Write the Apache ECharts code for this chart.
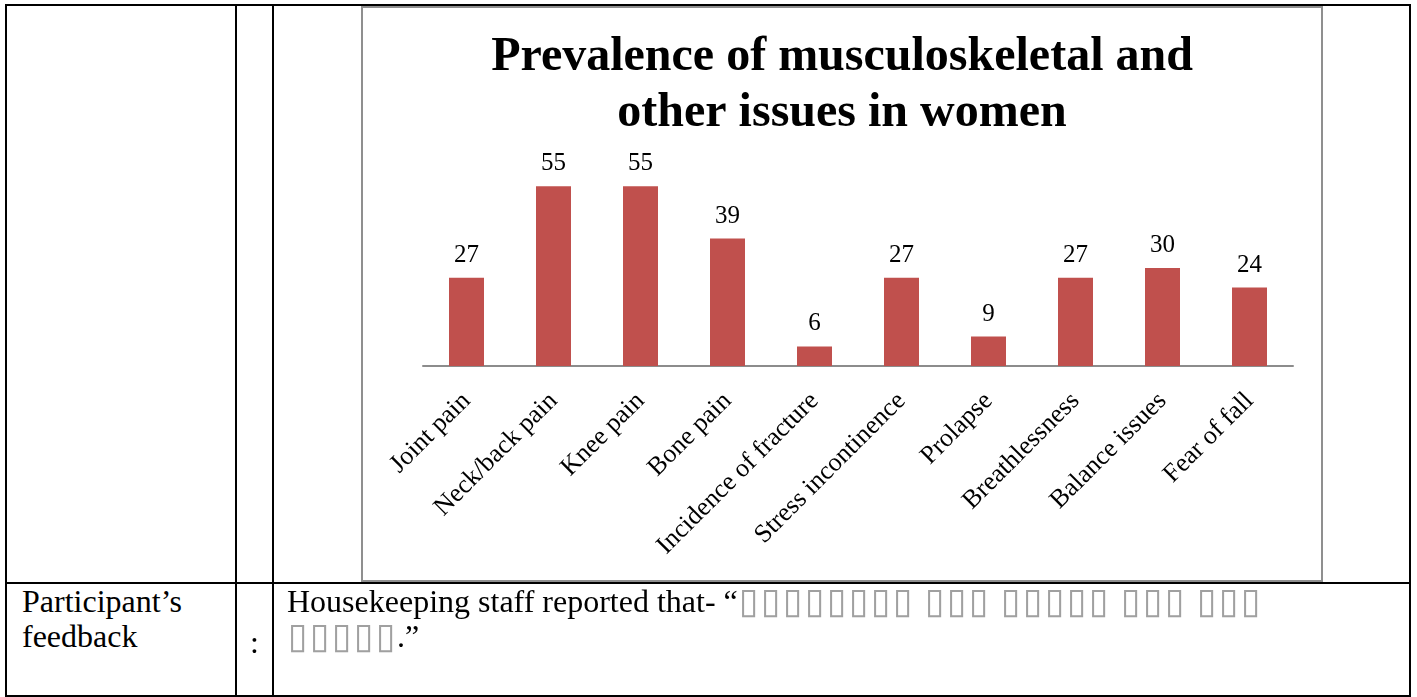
<!DOCTYPE html>
<html>
<head>
<meta charset="utf-8">
<script src="https://cdn.jsdelivr.net/npm/echarts@6/dist/echarts.min.js"></script>
<style>
  html, body { margin: 0; padding: 0; background: #fff; }
  body { width: 1417px; height: 697px; position: relative; overflow: hidden; font-family: "Liberation Serif", "Times New Roman", serif; }
  .ln { position: absolute; background: #000; }
  .frame { position: absolute; left: 361px; top: 6px; width: 958px; height: 572px; border: 2px solid #8f8f8f; }
  #chart { position: absolute; left: 361px; top: 6px; width: 962px; height: 576px; }
  .txt { position: absolute; font-size: 32px; line-height: 35px; color: #000; white-space: nowrap; }
  .tofu { display: inline-block; width: 22px; text-align: center; font-family: "DejaVu Sans", sans-serif; font-size: 36px; line-height: 30px; vertical-align: -1px; color: #a0a0a0; }
  .sp { display: inline-block; width: 10px; }
</style>
</head>
<body>
<div class="ln" style="left:5px;top:4px;width:1406px;height:2px"></div>
<div class="ln" style="left:5px;top:582px;width:1406px;height:2px"></div>
<div class="ln" style="left:5px;top:695px;width:1406px;height:2px"></div>
<div class="ln" style="left:5px;top:4px;width:2px;height:693px"></div>
<div class="ln" style="left:235px;top:4px;width:2px;height:693px"></div>
<div class="ln" style="left:272px;top:4px;width:2px;height:693px"></div>
<div class="ln" style="left:1409px;top:4px;width:2px;height:693px"></div>
<div class="frame"></div>
<div id="chart"></div>
<div class="txt" style="left:22px;top:584px">Participant’s<br>feedback</div>
<div class="txt" style="left:250px;top:625px">:</div>
<div class="txt" id="fb" style="left:287px;top:584px"></div>
<script>
const titleText = "Prevalence of musculoskeletal and\nother issues in women";
const categories = ["Joint pain", "Neck/back pain", "Knee pain", "Bone pain", "Incidence of fracture", "Stress incontinence", "Prolapse", "Breathlessness", "Balance issues", "Fear of fall"];
const values = [27, 55, 55, 39, 6, 27, 9, 27, 30, 24];
const feedbackLead = "Housekeeping staff reported that- “";
const tofuGroupsLine1 = [8, 3, 5, 3, 3];
const tofuGroupsLine2 = [5];
const feedbackEnd = ".”";

function tofu(groups) {
  return groups.map(n => Array.from({length: n}, () => '<span class="tofu">▯</span>').join('')).join('<span class="sp"> </span>');
}
document.getElementById('fb').innerHTML = feedbackLead + tofu(tofuGroupsLine1) + '<br>' + tofu(tofuGroupsLine2) + feedbackEnd;

const chart = echarts.init(document.getElementById('chart'), null, {renderer: 'canvas'});
chart.setOption({
  animation: false,
  backgroundColor: 'transparent',
  title: {
    text: titleText,
    left: 'center',
    top: 19,
    textStyle: { fontFamily: 'Liberation Serif', fontWeight: 'bold', fontSize: 48, lineHeight: 56, color: '#000' }
  },
  grid: { left: 62, right: 30, top: 164, bottom: 216 },
  xAxis: {
    type: 'category',
    data: categories,
    axisLine: { lineStyle: { color: '#8c8c8c', width: 2 } },
    axisTick: { show: false },
    axisLabel: { rotate: 45, interval: 0, margin: 31, fontFamily: 'Liberation Serif', fontSize: 26, color: '#000' }
  },
  yAxis: {
    type: 'value', min: 0, max: 60, show: false
  },
  series: [{
    type: 'bar',
    data: values,
    barWidth: 35,
    itemStyle: { color: '#c0504d' },
    label: { show: true, position: 'top', distance: 10, fontFamily: 'Liberation Serif', fontSize: 25, color: '#000' }
  }]
});
</script>
</body>
</html>
